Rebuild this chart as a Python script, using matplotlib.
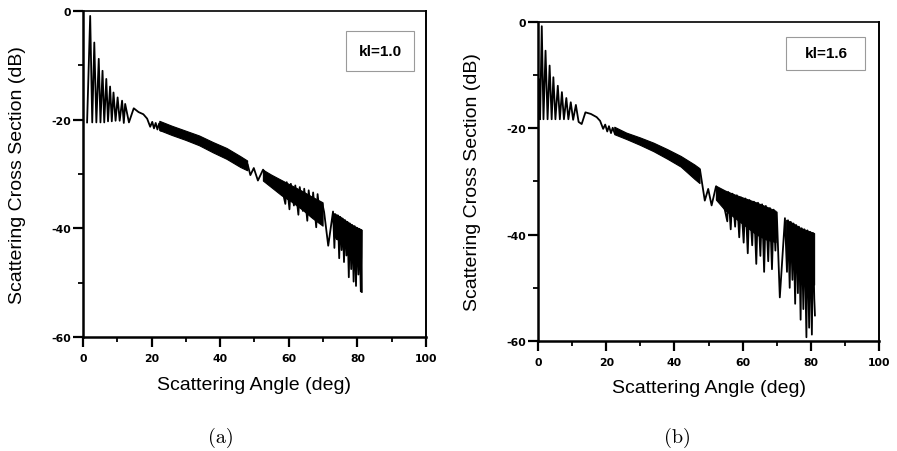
"""Scattering cross section vs angle, two panels (kl=1.0 and kl=1.6)."""
import numpy as np
import matplotlib
matplotlib.use('Agg')
import matplotlib.pyplot as plt
from matplotlib.patches import Rectangle
from matplotlib.ticker import MultipleLocator

nan = np.nan

# ---- panel (a): kl=1.0, traced curve (deg, dB) ----
ang_a = [1.2, 2.1, 2.7, 3.3, 3.9, 4.6, 5.1, 5.7, 6.2, 6.8, 7.3, 7.9, 8.4, 8.9, 9.5, 10.1,
         10.7, 11.4, 11.9, 12.3, 13.4, 14.8, 16.2, 17.6, 18.7, 19.6, 20.2, 20.7, 21.2, 21.7,
         22.2, 22.6,
         26, 30, 34, 38, 42, 46, 48.0, 48.8, 49.8, 51.0, 52.5, 55, 58,
         59.0, 59.4, 60.2, 60.6, 61.5, 61.9, 62.8, 63.2, 64.1, 64.5, 65.4, 65.8, 66.7, 67.1,
         68.0, 68.4, 69.3, 69.8, 70.3, 71.5, 72.9,
         73.3, 73.6, 74.0, 74.3, 74.7, 75.0, 75.4, 75.7, 76.1, 76.4, 76.8, 77.1, 77.5, 77.8,
         78.2, 78.5, 78.9, 79.2, 79.6, 79.9, 80.3, 80.6, 81.0, 81.2, 81.3]
db_a = [-20.5, -0.9, -20.5, -5.8, -20.5, -8.8, -20.5, -11.0, -20.5, -12.5, -20.3, -13.9,
        -20.3, -15.0, -20.2, -15.9, -20.2, -16.5, -20.6, -17.1, -20.5, -17.9, -18.6, -19.0,
        -19.8, -21.3, -20.4, -21.6, -20.6, -21.8, -20.7, -22.0,
        -22.0, -23.0, -23.9, -25.1, -26.3, -27.8, -28.2, -30.2, -28.9, -31.2, -29.2, -31.3, -32.6,
        -35.5, -31.5, -36.5, -31.8, -35.8, -32.1, -37.5, -32.4, -36.8, -32.7, -38.6, -33.0,
        -37.9, -33.4, -39.8, -33.7, -39.0, -35.5, -37.0, -43.2, -36.9,
        -43.6, -37.4, -42.0, -37.6, -45.5, -37.9, -44.0, -38.2, -46.2, -38.5, -45.0, -38.8,
        -49.0, -39.1, -47.5, -39.4, -49.8, -39.6, -50.6, -39.9, -48.5, -40.1, -51.6, -40.3, -51.7]

# dense oscillation band of panel (a): upper / lower envelope (nan = gap)
band_ang_a = [22.4, 26, 30, 34, 38, 42, 46, 48.0, 50, 52.6, 55, 58, 61, 64, 67, 70.0,
              71.5, 73.2, 75, 77, 79, 81.2]
band_hi_a = [-20.3, -21.2, -22.1, -23.0, -24.2, -25.3, -26.8, -27.6, nan, -29.3, -30.2,
             -31.2, -32.2, -33.2, -34.3, -35.3, nan, -37.3, -37.9, -38.8, -39.6, -40.3]
band_lo_a = [-22.0, -22.9, -23.8, -24.8, -26.1, -27.3, -28.8, -29.4, nan, -31.3, -32.5,
             -34.0, -35.2, -36.6, -38.2, -39.6, nan, -41.5, -42.5, -43.5, -44.5, -45.5]

# ---- panel (b): kl=1.6 ----
ang_b = [0.3, 0.6, 1.1, 1.6, 2.2, 2.8, 3.4, 4.0, 4.5, 5.1, 5.8, 6.4, 7.0, 7.6, 8.3, 8.9,
         9.6, 10.3, 11.1, 11.9, 12.8, 13.9, 15.5, 17.2, 18.2, 19.1, 19.7, 20.3, 20.8, 21.4,
         21.9, 22.5,
         26, 30, 34, 38, 42, 46, 47.5, 48.9, 49.9, 50.9, 52.2, 54.0,
         55.5, 55.8, 56.5, 57.0, 57.8, 58.3, 59.0, 59.5, 60.3, 60.8, 61.5, 62.0, 62.8, 63.3,
         64.0, 64.5, 65.2, 65.7, 66.3, 66.8, 67.5, 68.0, 68.6, 69.1, 69.6, 70.0, 70.9, 72.4,
         73.0, 73.3, 73.8, 74.1, 74.6, 74.9, 75.4, 75.7, 76.2, 76.5, 77.0, 77.3, 77.8, 78.1,
         78.7, 79.0, 79.5, 79.8, 80.3, 80.6, 81.0, 81.2]
db_b = [-10.8, -18.3, -0.8, -18.3, -5.4, -18.3, -8.2, -18.3, -10.4, -18.3, -12.0, -18.3,
        -13.2, -18.3, -14.3, -18.3, -15.1, -18.4, -15.6, -18.8, -19.2, -17.0, -17.3, -17.9,
        -18.6, -20.1, -19.3, -20.6, -19.6, -20.9, -19.9, -21.0,
        -21.4, -22.4, -23.5, -24.8, -26.1, -28.0, -27.8, -33.6, -31.4, -34.5, -30.9, -33.0,
        -37.5, -32.0, -39.0, -32.3, -38.5, -32.6, -40.5, -33.0, -41.5, -33.2, -43.5, -33.5,
        -42.0, -33.8, -45.5, -34.0, -44.0, -34.3, -47.0, -34.6, -45.0, -35.0, -46.5, -35.3,
        -43.0, -35.8, -51.8, -36.9,
        -47.0, -37.3, -50.0, -37.6, -48.5, -37.9, -53.0, -38.2, -51.0, -38.5, -56.0, -38.8,
        -54.0, -39.0, -59.3, -39.2, -57.5, -39.5, -58.8, -39.7, -52.0, -55.2]

band_ang_b = [22.5, 26, 30, 34, 38, 42, 46, 47.5, 50, 52.3, 55, 58, 61, 64, 67, 69.8,
              71.5, 72.9, 75, 77, 79, 81.1]
band_hi_b = [-19.8, -20.9, -21.8, -22.8, -24.0, -25.3, -26.9, -27.6, nan, -30.9, -31.8,
             -32.6, -33.3, -34.0, -34.8, -35.6, nan, -37.3, -38.0, -38.8, -39.3, -39.8]
band_lo_b = [-21.2, -22.1, -23.2, -24.4, -25.8, -27.3, -29.6, -30.4, nan, -33.5, -35.5,
             -37.0, -38.5, -40.0, -41.0, -41.5, nan, -43.0, -45.0, -47.0, -48.5, -49.5]

labels = ["kl=1.0", "kl=1.6"]
captions = ["(a)", "(b)"]

plt.rcParams.update({
    'font.family': ['Liberation Sans', 'DejaVu Sans'],
    'axes.unicode_minus': False,
})

fig = plt.figure(figsize=(8.97, 4.52), dpi=100)
ax_a = fig.add_axes([0.0925, 0.2522, 0.3824, 0.7212])
ax_b = fig.add_axes([0.5998, 0.2434, 0.3802, 0.7058])

panels = [
    (ax_a, ang_a, db_a, band_ang_a, band_hi_a, band_lo_a, labels[0], captions[0],
     (0.767, 0.816, 0.198, 0.123), (0.866, 0.877), 0.2466),
    (ax_b, ang_b, db_b, band_ang_b, band_hi_b, band_lo_b, labels[1], captions[1],
     (0.727, 0.850, 0.232, 0.103), (0.845, 0.903), 0.7547),
]

for ax, ang, db, bx, bhi, blo, lab, cap, box, txt, capx in panels:
    ax.fill_between(bx, blo, bhi, color='black', lw=0.8, zorder=3)
    ax.plot(ang, db, color='black', lw=1.3, zorder=4)

    ax.set_xlim(0, 100)
    ax.set_ylim(-60, 0)
    ax.xaxis.set_major_locator(MultipleLocator(20))
    ax.xaxis.set_minor_locator(MultipleLocator(10))
    ax.yaxis.set_major_locator(MultipleLocator(20))
    ax.yaxis.set_minor_locator(MultipleLocator(10))
    ax.tick_params(which='major', direction='out', length=7, width=1.6, labelsize=7.8,
                   pad=4.5, labelfontfamily='DejaVu Sans')
    ax.tick_params(which='minor', direction='out', length=3.5, width=1.3)
    ax.tick_params(axis='y', which='major', pad=1.5)
    for t in ax.get_xticklabels() + ax.get_yticklabels():
        t.set_fontweight('bold')
    ax.spines['left'].set_linewidth(1.8)
    ax.spines['bottom'].set_linewidth(1.8)
    ax.spines['top'].set_linewidth(1.2)
    ax.spines['right'].set_linewidth(1.4)

    ax.set_xlabel('Scattering Angle (deg)', fontsize=14)
    ax.set_ylabel('Scattering Cross Section (dB)', fontsize=14)
    ax.xaxis.set_label_coords(0.5, -0.12)
    ax.yaxis.set_label_coords(-0.166, 0.5)

    ax.add_patch(Rectangle((box[0], box[1]), box[2], box[3], transform=ax.transAxes,
                           fill=False, edgecolor='#9a9a9a', lw=0.8, zorder=5))
    ax.text(txt[0], txt[1], lab, transform=ax.transAxes, ha='center', va='center',
            fontsize=11, fontweight='bold', zorder=6)

    fig.text(capx, 1 - 438 / 452, cap, ha='center', va='center',
             fontsize=14.5, family='cmr10')

fig.savefig('out.png', dpi=100)
